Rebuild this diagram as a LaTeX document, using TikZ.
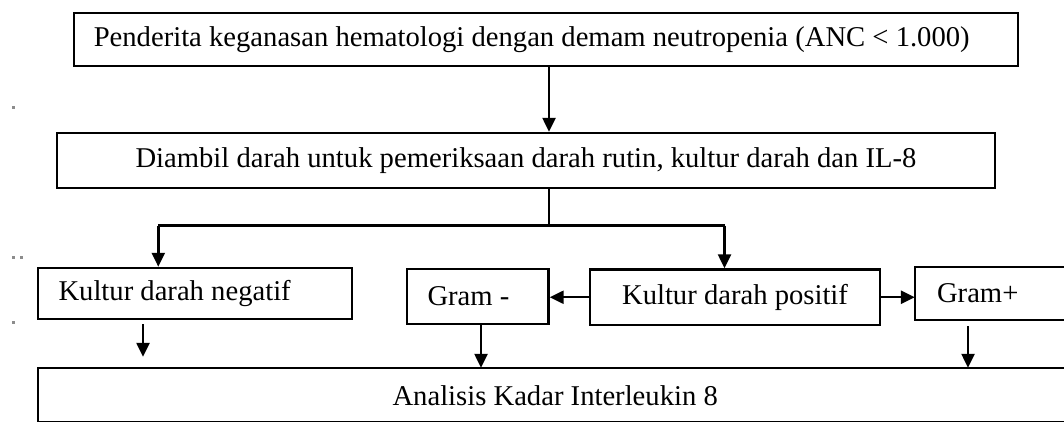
\documentclass[tikz,border=0pt]{standalone}
\usepackage{fontspec}
\setmainfont{Liberation Serif}
\usetikzlibrary{arrows.meta}
\begin{document}
\begin{tikzpicture}[x=0.02cm,y=-0.02cm,
  box/.style={draw=black, line width=1.4pt, inner ysep=0pt, font=\fontsize{16.3}{19.5}\selectfont},
  openbox/.style={box, draw=none},
  arr/.style={line width=1.4pt, -{Triangle[length=0.28cm,width=0.26cm]}},
  ln/.style={line width=1.4pt},
  dot/.style={fill=black!45, draw=none}]
\useasboundingbox (0,0) rectangle (1064,422);
\clip (0,0) rectangle (1064,422);
% margin marks
\fill[dot] (12,106) rectangle (15,109);
\fill[dot] (12,256) rectangle (15,259);
\fill[dot] (20,256) rectangle (23,259);
\fill[dot] (12,321) rectangle (15,324);
% boxes
\node[box, minimum width=18.88cm, minimum height=1.06cm, text width=18.092cm, inner xsep=0.394cm, align=flush left] (top) at (546,39.5) {Penderita keganasan hematologi dengan demam neutropenia (ANC < 1.000)};
\node[box, minimum width=18.76cm, minimum height=1.10cm] (ambil) at (526,160.5) {Diambil darah untuk pemeriksaan darah rutin, kultur darah dan IL-8};
\node[box, minimum width=6.28cm, minimum height=1.02cm, text width=5.46cm, inner xsep=0.41cm, align=flush left] (neg) at (195,293.5) {Kultur darah negatif};
\node[box, minimum width=2.83cm, minimum height=1.10cm, text width=2.01cm, inner xsep=0.41cm, align=flush left] (gm) at (477.75,296.5) {Gram -};
\node[box, minimum width=5.80cm, minimum height=1.11cm] (pos) at (735,297.25) {Kultur darah positif};
\node[openbox, minimum width=5.68cm, minimum height=1.02cm, text width=4.84cm, inner xsep=0.42cm, align=flush left] (gp) at (1058,293.5) {Gram+};
\node[openbox, minimum width=24.22cm, minimum height=1.05cm, text width=10.08cm, inner xsep=7.07cm, align=flush left] (bot) at (644.5,395.25) {Analisis Kadar Interleukin 8};
% open-ended box outlines (cut by the right edge of the picture)
\draw[ln] (gp.north east) -- (gp.north west) -- (gp.south west) -- (gp.south east);
\draw[ln] (bot.north east) -- (bot.north west) -- (bot.south west) -- (bot.south east);
% helper coordinates
\coordinate (xa) at (549,0);
\coordinate (yb) at (0,225.5);
\coordinate (xn) at (158.3,0);
\coordinate (xp) at (724.5,0);
\coordinate (xn2) at (143,0);
\coordinate (xg1) at (481,0);
\coordinate (xg2) at (968,0);
% connectors
\draw[arr] (xa |- top.south) -- (xa |- ambil.north);
\draw[ln] (xa |- ambil.south) -- (xa |- yb);
\draw[ln] (xn |- yb) -- (xp |- yb);
\draw[arr] (xn |- yb) -- (xn |- neg.north);
\draw[arr] (xp |- yb) -- (xp |- pos.north);
\draw[arr] (pos.west) -- (pos.west -| gm.east);
\draw[arr] (pos.east) -- (pos.east -| gp.west);
\draw[arr, shorten <=0.08cm, shorten >=0.22cm] (xn2 |- neg.south) -- (xn2 |- bot.north);
\draw[arr] (xg1 |- gm.south) -- (xg1 |- bot.north);
\draw[arr, shorten <=0.12cm] (xg2 |- gp.south) -- (xg2 |- bot.north);
\end{tikzpicture}
\end{document}
